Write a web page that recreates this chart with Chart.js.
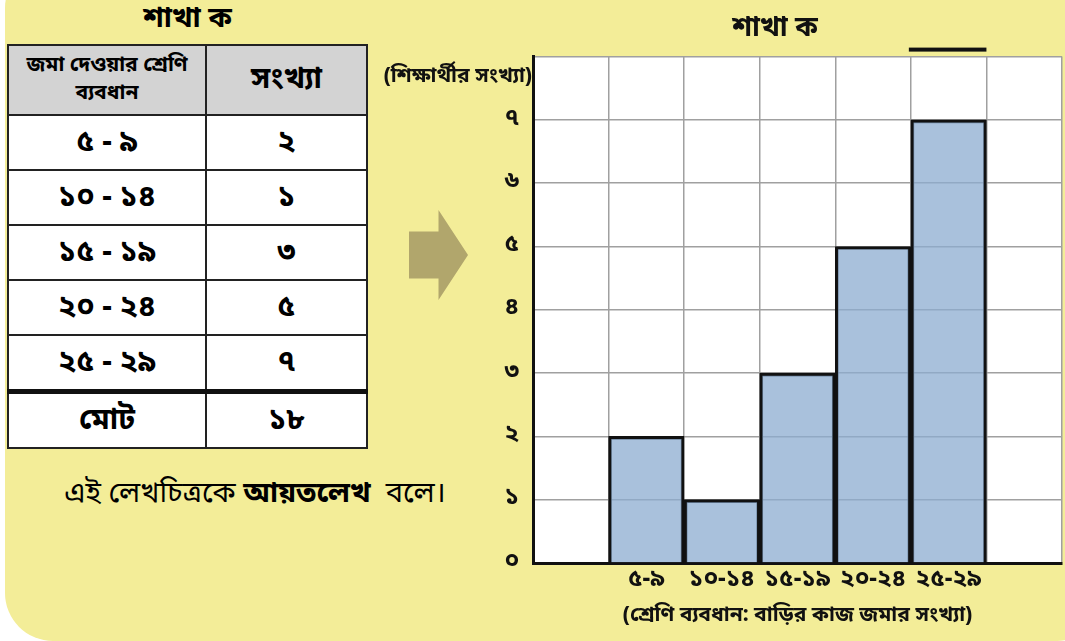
<!DOCTYPE html>
<html>
<head>
<meta charset="utf-8">
<script src="https://cdn.jsdelivr.net/npm/chart.js@4"></script>
<style>
  body { margin: 0; background: #fff; width: 1065px; height: 641px; overflow: hidden; position: relative;
         font-family: "Noto Sans Bengali", "Lohit Bengali", "Noto Sans", sans-serif; }
  #panel { position: absolute; left: 5px; top: -40px; width: 1100px; height: 681px; background: #f3ed98; border-radius: 48px; }
  #tblTitle { position: absolute; left: 7px; top: 0px; width: 361px; text-align: center; font-size: 29px; font-weight: bold; }
  table { position: absolute; left: 7px; top: 44px; width: 361px; border-collapse: collapse; background: #fff; }
  td, th { border: 2px solid #222; text-align: center; font-weight: bold; padding: 0; }
  th { background: #d3d3d3; height: 68px; font-size: 30px; }
  th.small { font-size: 21px; line-height: 28px; }
  td { height: 53px; font-size: 30px; }
  tr.total td { border-top: 5px solid #111; }
  #arrow { position: absolute; left: 409px; top: 210px; width: 59px; height: 90px; background: #b1a66c;
           clip-path: polygon(0 24%, 50% 24%, 50% 0, 100% 50%, 50% 100%, 50% 76%, 0 76%); }
  #note { position: absolute; left: 0; top: 475px; width: 510px; text-align: center; font-size: 29px; }
  #wrap { position: absolute; left: 370px; top: 0; width: 695px; height: 641px; }
</style>
</head>
<body>
<div id="panel"></div>
<div id="tblTitle">শাখা ক</div>
<table id="freq"></table>
<div id="arrow"></div>
<div id="note">এই লেখচিত্রকে <b>আয়তলেখ</b>&nbsp; বলে।</div>
<div id="wrap"><canvas id="hist"></canvas></div>

<script>
// class limits and number of students
const lowers = [5, 10, 15, 20, 25];
const uppers = [9, 14, 19, 24, 29];
const counts = [2, 1, 3, 5, 7];
const yTicks = [0, 1, 2, 3, 4, 5, 6, 7];

const bnDigits = ['০', '১', '২', '৩', '৪', '৫', '৬', '৭', '৮', '৯'];
function toBn(n) {
    return String(n).replace(/[0-9]/g, d => bnDigits[d]);
}

// table on the left
let rows = '<tr><th class="small">জমা দেওয়ার শ্রেণি<br>ব্যবধান</th><th>সংখ্যা</th></tr>';
for (let i = 0; i < counts.length; i++) {
    rows += '<tr><td>' + toBn(lowers[i]) + ' - ' + toBn(uppers[i]) + '</td><td>' + toBn(counts[i]) + '</td></tr>';
}
let total = counts.reduce((a, b) => a + b, 0);
rows += '<tr class="total"><td>মোট</td><td>' + toBn(total) + '</td></tr>';
document.getElementById('freq').innerHTML = rows;
document.querySelector('#freq th').style.width = '196px';

// histogram: one empty column on each side
let labels = [''];
let values = [null];
for (let i = 0; i < counts.length; i++) {
    labels.push(toBn(lowers[i]) + '-' + toBn(uppers[i]));
    values.push(counts[i]);
}
labels.push('');
values.push(null);

const bnFont = '"Noto Sans Bengali", "Lohit Bengali", "Noto Sans", sans-serif';

// white plot area behind the grid
const paper = {
    id: 'paper',
    beforeDraw(chart) {
        let a = chart.chartArea;
        chart.ctx.save();
        chart.ctx.fillStyle = '#fff';
        chart.ctx.fillRect(a.left, a.top, a.right - a.left, a.bottom - a.top);
        chart.ctx.restore();
    }
};

// y title sits horizontally at the top of the axis, plus the short bar above the last column
const extras = {
    id: 'extras',
    afterDraw(chart) {
        let ctx = chart.ctx;
        let y = chart.scales.y;
        let x = chart.scales.x;
        ctx.save();
        ctx.fillStyle = '#111';
        ctx.font = 'bold 21px ' + bnFont;
        ctx.textAlign = 'right';
        ctx.textBaseline = 'middle';
        ctx.fillText('(শিক্ষার্থীর সংখ্যা)', y.right - 1, chart.chartArea.top + 21);

        let half = (x.getPixelForValue(1) - x.getPixelForValue(0)) / 2;
        let cx = x.getPixelForValue(counts.length);
        ctx.fillRect(cx - half - 2, chart.chartArea.top - 9, half * 2 + 2, 4);
        ctx.restore();
    }
};

let ctxHist = document.querySelector('#hist').getContext('2d');

let config = {
    type: 'bar',
    data: {
        labels: labels,
        datasets: [{
            data: values,
            backgroundColor: 'rgba(140, 172, 208, 0.75)',
            borderColor: '#111',
            borderWidth: 3,
            barPercentage: 1,
            categoryPercentage: 1
        }]
    },
    options: {
        responsive: true,
        maintainAspectRatio: false,
        animation: false,
        layout: { padding: { top: 1, right: 3, bottom: 7, left: 118 } },
        plugins: {
            legend: { display: false },
            tooltip: { enabled: false },
            title: {
                display: true,
                text: 'শাখা ক',
                color: '#111',
                font: { family: bnFont, size: 28, weight: 'bold' },
                padding: { top: 13, bottom: 9 }
            }
        },
        scales: {
            x: {
                offset: true,
                grid: { offset: true, color: '#a0a0a0', lineWidth: 1.5, drawTicks: false },
                border: { color: '#111', width: 3 },
                ticks: { color: '#111', padding: 4, font: { family: bnFont, size: 24, weight: 'bold' } },
                title: {
                    display: true,
                    text: '(শ্রেণি ব্যবধান: বাড়ির কাজ জমার সংখ্যা)',
                    color: '#111',
                    font: { family: bnFont, size: 21, weight: 'bold' },
                    padding: { top: 5, bottom: 4 }
                }
            },
            y: {
                min: 0,
                max: 8,
                afterFit: s => { s.width = 45; },
                grid: { color: '#a0a0a0', lineWidth: 1.5, drawTicks: false },
                border: { color: '#111', width: 3 },
                ticks: {
                    stepSize: 1,
                    color: '#111',
                    padding: 14,
                    font: { family: bnFont, size: 24, weight: 'bold' },
                    callback: v => yTicks.includes(v) ? toBn(v) : ''
                }
            }
        }
    },
    plugins: [paper, extras]
};

let histChart = new Chart(ctxHist, config);
</script>
</body>
</html>
